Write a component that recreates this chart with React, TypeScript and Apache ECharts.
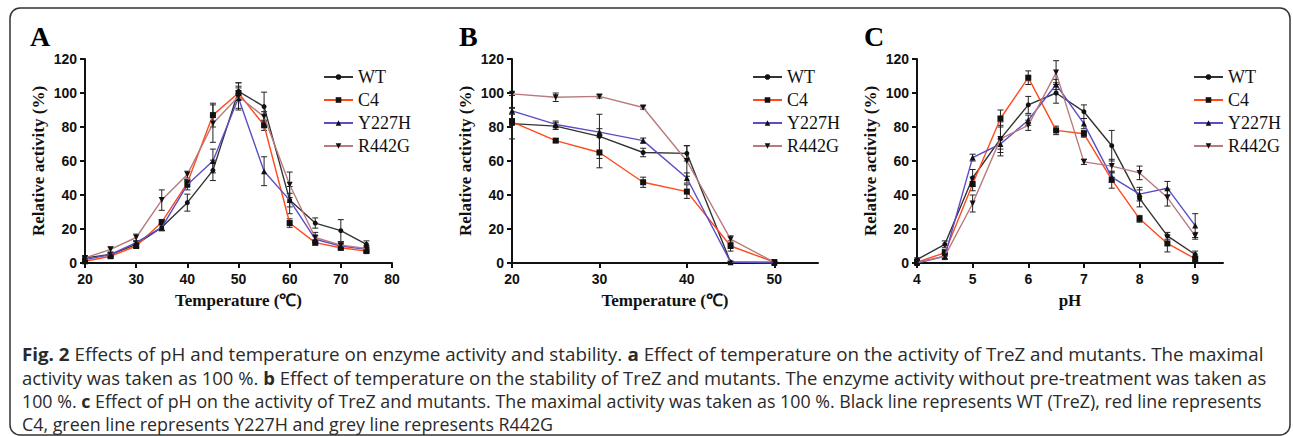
import React, { useEffect, useRef } from "react";
import * as echarts from "echarts";

// ---------- data ----------
const seriesNames = ["WT", "C4", "Y227H", "R442G"];

// Panel A: temperature vs activity
const tempA = [20, 25, 30, 35, 40, 45, 50, 55, 60, 65, 70, 75];
const aWT = [3, 5, 11, 21, 35.5, 54.5, 101, 92, 37, 23.5, 19, 11];
const aC4 = [1, 4, 10, 24, 47, 87, 100, 81, 23.5, 12, 9, 7];
const aY227H = [2, 5, 12, 21, 46, 60, 97, 54, 37, 14, 10, 8];
const aR442G = [3, 8, 15, 37, 52, 82, 98, 86, 46, 15, 10.5, 8.5];
const aWTErr = [1, 1, 1.5, 2, 5, 6, 5, 8.5, 8, 3, 6.5, 2];
const aC4Err = [1, 1, 1, 1.5, 2, 7, 4, 3, 2.5, 1.5, 1.5, 1];
const aY227HErr = [1, 1, 1, 2, 3, 7, 6, 8.5, 4, 2, 1.5, 1];
const aR442GErr = [1, 1.5, 2, 6, 2, 11, 8, 3, 7.5, 3, 2, 1.5];

// Panel B: temperature vs stability
const tempB = [20, 25, 30, 35, 40, 45, 50];
const bWT = [82, 80.5, 74.5, 65, 64.5, 0.5, 0.5];
const bC4 = [83, 72, 65, 47.5, 42, 10, 0.5];
const bY227H = [89.5, 81.5, 77, 72, 50, 0.5, 0];
const bR442G = [99.5, 97.5, 98, 91.5, 60, 14, 0.5];
const bWTErr = [9, 2, 13, 2.5, 4.5, 0.5, 0.5];
const bC4Err = [2, 1, 9, 3, 4, 3, 0.5];
const bY227HErr = [2, 2, 2, 1.5, 3, 0.5, 0.5];
const bR442GErr = [1, 2.5, 1, 1, 9, 2, 0.5];

// Panel C: pH vs activity
const phC = [4, 4.5, 5, 5.5, 6, 6.5, 7, 7.5, 8, 8.5, 9];
const cWT = [2, 11, 50, 73, 93, 100, 89, 69, 38, 16, 5];
const cC4 = [0.5, 6, 46.5, 85, 109, 78, 76, 49, 26, 11.5, 2.5];
const cY227H = [0, 4, 62, 70, 84, 105, 82, 50.5, 40.5, 44, 22];
const cR442G = [0.5, 4, 35, 73, 81, 112, 59.5, 57, 53, 38.5, 16];
const cWTErr = [1, 2, 5, 10, 5, 6, 4, 9, 5, 2, 2];
const cC4Err = [0.5, 2, 4, 5, 4, 2.5, 2, 5, 2, 5, 1.5];
const cY227HErr = [0.5, 1.5, 2, 3, 3, 3, 3, 3, 4, 4, 7];
const cR442GErr = [0.5, 2, 5, 8, 3, 7, 1.5, 4, 4, 5, 2];

const yTicks = [0, 20, 40, 60, 80, 100, 120];
const xTicksA = [20, 30, 40, 50, 60, 70, 80];
const xTicksB = [20, 30, 40, 50];
const xTicksC = [4, 5, 6, 7, 8, 9];

const captionLines = [
  "{b|Fig. 2} Effects of pH and temperature on enzyme activity and stability. {b|a} Effect of temperature on the activity of TreZ and mutants. The maximal",
  "activity was taken as 100 %. {b|b} Effect of temperature on the stability of TreZ and mutants. The enzyme activity without pre-treatment was taken as",
  "100 %. {b|c} Effect of pH on the activity of TreZ and mutants. The maximal activity was taken as 100 %. Black line represents WT (TreZ), red line represents",
  "C4, green line represents Y227H and grey line represents R442G",
];

// ---------- styles ----------
const lineColors = ["#333333", "#ff4a1c", "#5a4ec6", "#b97a7c"];
const symbols = ["circle", "rect", "triangle", "triangle"];
const symbolSizes = [5, 6, 6, 6];
const symbolRotates = [0, 0, 0, 180];

const SANS = "'Liberation Sans', Arial, sans-serif";
const SERIF = "'Liberation Serif', 'Times New Roman', serif";
const CAP = "'Open Sans', 'Noto Sans', sans-serif";
const CAP_SIZE = 18.5;
const CAP_SCALE = [1.015, 0.998, 0.963, 0.965];
const CAP_Y = [354, 377.5, 401, 424];

const panels = [
  {
    letter: "A",
    letterX: 30,
    xName: "Temperature (℃)",
    x: tempA,
    ys: [aWT, aC4, aY227H, aR442G],
    errs: [aWTErr, aC4Err, aY227HErr, aR442GErr],
    left: 85,
    width: 307,
    min: 20,
    max: 80,
    interval: 10,
    ticks: xTicksA,
    legendLeft: 318,
  },
  {
    letter: "B",
    letterX: 459,
    xName: "Temperature (℃)",
    x: tempB,
    ys: [bWT, bC4, bY227H, bR442G],
    errs: [bWTErr, bC4Err, bY227HErr, bR442GErr],
    left: 512,
    width: 306,
    min: 20,
    max: 55,
    interval: 10,
    ticks: xTicksB,
    legendLeft: 747,
  },
  {
    letter: "C",
    letterX: 864,
    xName: "pH",
    x: phC,
    ys: [cWT, cC4, cY227H, cR442G],
    errs: [cWTErr, cC4Err, cY227HErr, cR442GErr],
    left: 917,
    width: 306,
    min: 4,
    max: 9.5,
    interval: 1,
    ticks: xTicksC,
    legendLeft: 1188,
  },
];

const GRID_TOP = 59;
const GRID_H = 204;

function errorRenderItem(params: any, api: any) {
  const x = api.value(0);
  const y = api.value(1);
  const e = api.value(2);
  const top = api.coord([x, y + e]);
  const bot = api.coord([x, Math.max(0, y - e)]);
  const w = 3;
  const st = { stroke: "#222", lineWidth: 1 };
  return {
    type: "group",
    children: [
      { type: "line", shape: { x1: top[0], y1: top[1], x2: bot[0], y2: bot[1] }, style: st },
      { type: "line", shape: { x1: top[0] - w, y1: top[1], x2: top[0] + w, y2: top[1] }, style: st },
      { type: "line", shape: { x1: bot[0] - w, y1: bot[1], x2: bot[0] + w, y2: bot[1] }, style: st },
    ],
  };
}

function buildOption() {
  const grid: any[] = [];
  const xAxis: any[] = [];
  const yAxis: any[] = [];
  const series: any[] = [];
  const legend: any[] = [];
  const graphic: any[] = [];

  graphic.push({
    type: "rect",
    shape: { x: 10, y: 8, width: 1280, height: 427, r: 10 },
    style: { fill: "none", stroke: "#333", lineWidth: 1.5 },
    silent: true,
  });

  panels.forEach((p, pi) => {
    grid.push({ left: p.left, top: GRID_TOP, width: p.width, height: GRID_H, containLabel: false });
    xAxis.push({
      type: "value",
      gridIndex: pi,
      min: p.min,
      max: p.max,
      interval: p.interval,
      name: p.xName,
      nameLocation: "middle",
      nameGap: 29,
      nameTextStyle: { fontFamily: SERIF, fontWeight: "bold", fontSize: 17, color: "#111" },
      axisLine: { show: true, onZero: false, lineStyle: { color: "#111", width: 2 } },
      axisTick: { show: true, length: 5, lineStyle: { color: "#111", width: 2 }, customValues: p.ticks },
      axisLabel: {
        fontFamily: SANS,
        fontWeight: "bold",
        fontSize: 14,
        color: "#111",
        margin: 9,
        customValues: p.ticks,
      },
      splitLine: { show: false },
    });
    yAxis.push({
      type: "value",
      gridIndex: pi,
      min: 0,
      max: 120,
      interval: 20,
      name: "Relative activity (%)",
      nameLocation: "middle",
      nameGap: 38,
      nameTextStyle: { fontFamily: SERIF, fontWeight: "bold", fontSize: 17, color: "#111" },
      axisLine: { show: true, onZero: false, lineStyle: { color: "#111", width: 2 } },
      axisTick: { show: true, length: 5, lineStyle: { color: "#111", width: 2 }, customValues: yTicks },
      axisLabel: {
        fontFamily: SANS,
        fontWeight: "bold",
        fontSize: 14,
        color: "#111",
        margin: 8,
        customValues: yTicks,
      },
      splitLine: { show: false },
    });

    seriesNames.forEach((name, si) => {
      series.push({
        type: "custom",
        name: name + " error " + p.letter,
        xAxisIndex: pi,
        yAxisIndex: pi,
        renderItem: errorRenderItem,
        encode: { x: 0, y: 1 },
        data: p.x.map((xv, i) => [xv, p.ys[si][i], p.errs[si][i]]),
        z: 3,
        silent: true,
      });
    });
    seriesNames.forEach((name, si) => {
      series.push({
        type: "line",
        name,
        xAxisIndex: pi,
        yAxisIndex: pi,
        data: p.x.map((xv, i) => [xv, p.ys[si][i]]),
        symbol: symbols[si],
        symbolSize: symbolSizes[si],
        symbolRotate: symbolRotates[si],
        showAllSymbol: true,
        lineStyle: { color: lineColors[si], width: 1.4 },
        itemStyle: { color: "#111" },
        z: 4 + si,
        silent: true,
      });
    });

    legend.push({
      orient: "vertical",
      left: p.legendLeft,
      top: 63,
      itemWidth: 29,
      itemHeight: 7,
      itemGap: 5,
      selectedMode: false,
      data: seriesNames,
      textStyle: { fontFamily: SERIF, fontSize: 18, color: "#111", lineHeight: 18 },
    });

    graphic.push({
      type: "text",
      left: p.letterX,
      top: 22,
      style: { text: p.letter, fontFamily: SERIF, fontWeight: "bold", fontSize: 28, fill: "#000" },
    });
  });

  captionLines.forEach((t, i) => {
    graphic.push({
      type: "text",
      x: 22,
      y: CAP_Y[i],
      scaleX: CAP_SCALE[i],
      style: {
        text: t,
        fontFamily: CAP,
        fontSize: CAP_SIZE,
        fill: "#2a2a2a",
        verticalAlign: "middle",
        rich: {
          b: { fontFamily: CAP, fontSize: CAP_SIZE, fontWeight: "bold", fill: "#2a2a2a" },
        },
      },
    });
  });

  return {
    animation: false,
    backgroundColor: "#fff",
    grid,
    xAxis,
    yAxis,
    legend,
    series,
    graphic,
  };
}

export default function App() {
  const ref = useRef<HTMLDivElement>(null);
  useEffect(() => {
    if (!ref.current) return;
    const chart = echarts.init(ref.current, undefined, { renderer: "svg" });
    chart.setOption(buildOption() as any);
    return () => chart.dispose();
  }, []);
  return (
    <div
      ref={ref}
      style={{ position: "absolute", left: 0, top: 0, width: 1293, height: 436 }}
    />
  );
}
